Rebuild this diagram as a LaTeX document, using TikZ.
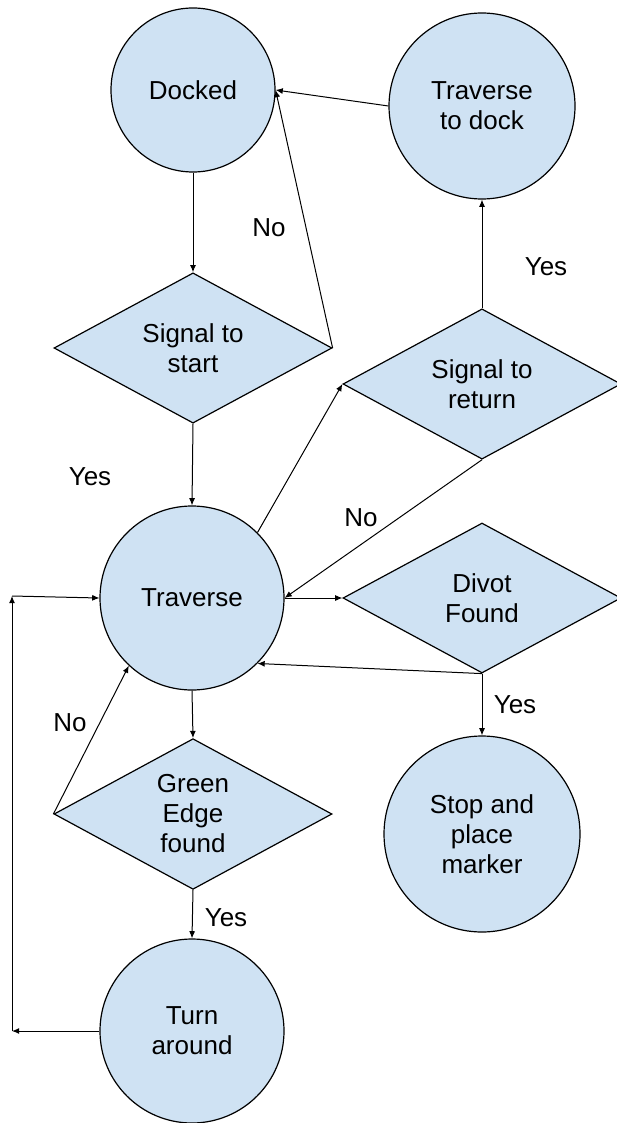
\documentclass[tikz,border=0pt]{standalone}
\usepackage{fontspec}
\setmainfont{Liberation Sans}
\usepackage{tikz}
\usetikzlibrary{arrows.meta, shapes.geometric, positioning, calc}
\definecolor{boxblue}{HTML}{CFE2F3}
\tikzstyle{arrow} = [line width=0.5pt,-{Latex[length=3.6pt,width=3pt]}]
\tikzset{
  state/.style={circle, draw, line width=0.6pt, fill=boxblue, inner sep=0pt,
    align=center, font=\fontsize{13}{15}\selectfont},
  decision/.style={diamond, draw, line width=0.6pt, fill=boxblue, inner sep=0pt,
    minimum width=139pt, minimum height=75pt, align=center,
    font=\fontsize{13}{15}\selectfont},
  lbl/.style={font=\fontsize{13}{15}\selectfont, inner sep=0pt},
}
\begin{document}
\begin{tikzpicture}[x=0.5pt, y=-0.5pt]
        \useasboundingbox (0,0) rectangle (616,1123);
        % states and decisions
        \node[state, minimum size=82pt] (docked) at (193,90) {Docked};
        \node[state, minimum size=93pt] (tdock) at (482,106) {Traverse\\to dock};
        \node[decision] (sigstart) at (193,348) {Signal to\\start};
        \node[decision] (sigret) at (482,384) {Signal to\\return};
        \node[state, minimum size=92pt] (trav) at (192,598) {Traverse};
        \node[decision] (divot) at (482,598) {Divot\\Found};
        \node[decision] (green) at (193,814) {Green\\Edge\\found};
        \node[state, minimum size=98pt] (stop) at (482,834) {Stop and\\place\\marker};
        \node[state, minimum size=92pt] (turn) at (192,1031) {Turn\\around};
        % loop back corners
        \coordinate (loopbot) at (12,1031);
        \coordinate (looptop) at (12,596);
        % connectors
        \draw[arrow] (docked.south) -- (sigstart.north);
        \draw[arrow] (sigstart.east) -- (docked.east);
        \draw[arrow] (tdock.west) -- (docked.east);
        \draw[arrow] (sigstart.south) -- (trav.north);
        \draw[arrow] (sigret.north) -- (tdock.south);
        \draw[arrow] (trav.45) -- (sigret.west);
        \draw[arrow] (sigret.south) -- (trav.east);
        \draw[arrow] (trav.east) -- (divot.west);
        \draw[arrow] (divot.south) -- (trav.-45);
        \draw[arrow] (divot.south) -- (stop.north);
        \draw[arrow] (trav.south) -- (green.north);
        \draw[arrow] (green.west) -- (trav.-133);
        \draw[arrow] (green.south) -- (turn.north);
        \draw[arrow] (turn.west) -- (loopbot);
        \draw[arrow] (loopbot) -- (looptop);
        \draw[arrow] (looptop) -- (trav.west);
        % branch labels
        \node[lbl] (nostart) at (269,228) {No};
        \node[lbl] (yesret) at (546,267) {Yes};
        \node[lbl] (yesstart) at (90,477) {Yes};
        \node[lbl] (noret) at (361,518) {No};
        \node[lbl] (nogreen) at (70,723) {No};
        \node[lbl] (yesdivot) at (515,705) {Yes};
        \node[lbl] (yesgreen) at (226,918) {Yes};
\end{tikzpicture}
\end{document}
